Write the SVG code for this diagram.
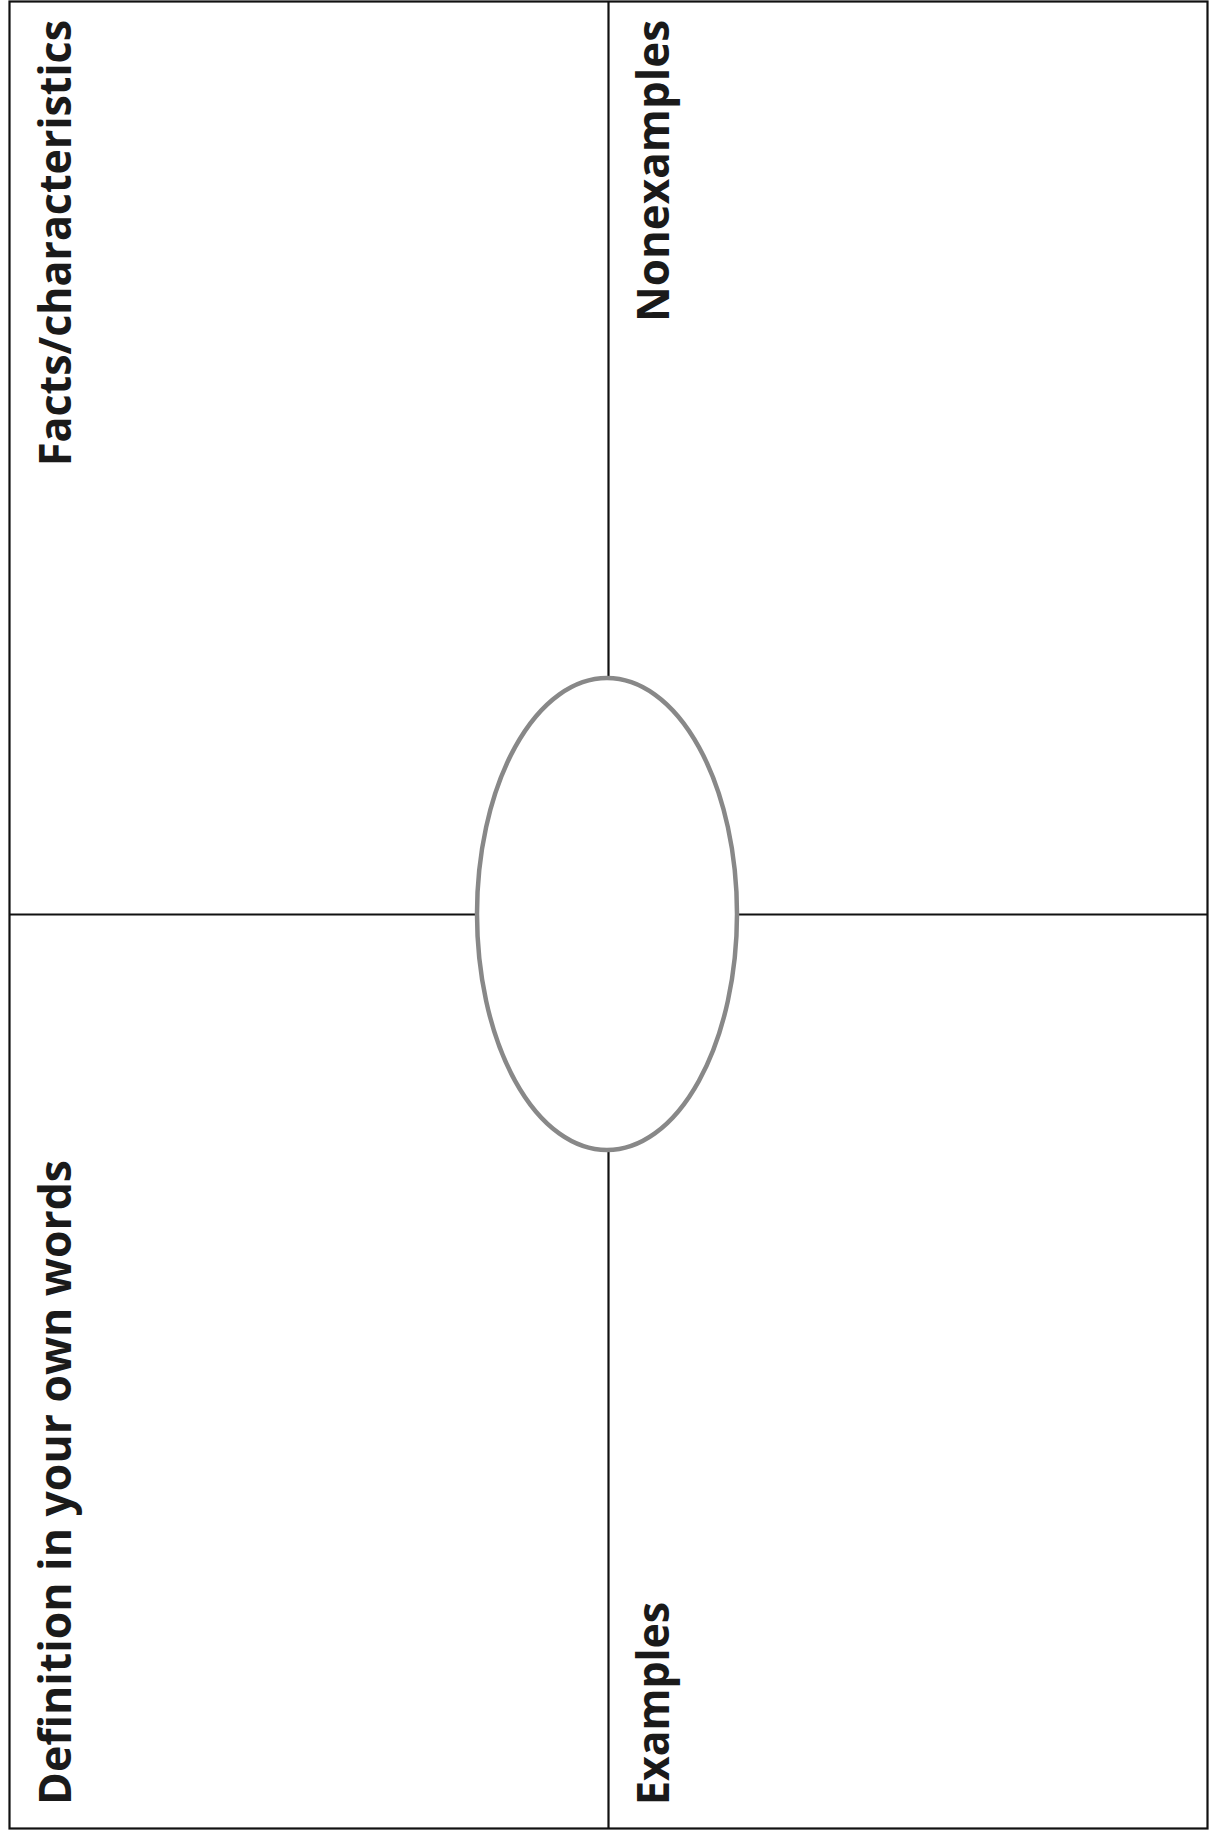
<svg xmlns="http://www.w3.org/2000/svg" width="1213" height="1838" viewBox="0 0 1213 1838">
<style>
.lbl{font-family:"Open Sans","Noto Sans","Liberation Sans",sans-serif;font-weight:bold;font-size:45px;fill:#1a1a1a}
.ln{stroke:#111;stroke-width:2.2;fill:none}
</style>
<rect width="1213" height="1838" fill="#fff"/>
<g id="connectors">
<rect x="9.5" y="1.5" width="1198" height="1827" class="ln" stroke-width="3"/>
<line class="ln" x1="608.5" y1="1" x2="608.5" y2="678"/>
<line class="ln" x1="608.5" y1="1150" x2="608.5" y2="1829"/>
<line class="ln" x1="9" y1="914.5" x2="477" y2="914.5"/>
<line class="ln" x1="737" y1="914.5" x2="1208" y2="914.5"/>
</g>
<g id="center">
<ellipse cx="607" cy="914" rx="130" ry="236" fill="#fff" stroke="#888" stroke-width="4.5"/>
</g>
<g id="facts">
<text class="lbl" transform="translate(71,466) rotate(-90)" textLength="446" lengthAdjust="spacingAndGlyphs">Facts/characteristics</text>
</g>
<g id="nonexamples">
<text class="lbl" transform="translate(669,322) rotate(-90)" textLength="302" lengthAdjust="spacingAndGlyphs">Nonexamples</text>
</g>
<g id="definition">
<text class="lbl" transform="translate(71,1805) rotate(-90)" textLength="645" lengthAdjust="spacingAndGlyphs">Definition in your own words</text>
</g>
<g id="examples">
<text class="lbl" transform="translate(669,1805) rotate(-90)" textLength="203" lengthAdjust="spacingAndGlyphs">Examples</text>
</g>
</svg>
